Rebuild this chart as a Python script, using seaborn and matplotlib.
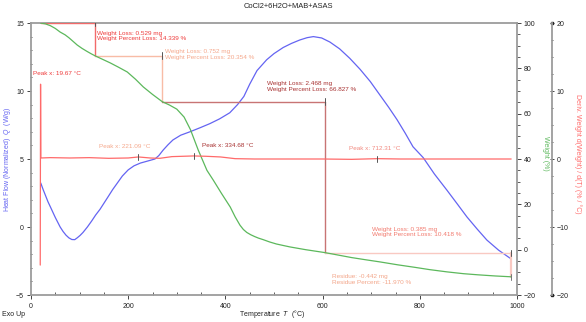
import numpy as np
import pandas as pd
import matplotlib
matplotlib.use("Agg")
import matplotlib.pyplot as plt
from matplotlib.ticker import MultipleLocator
import seaborn as sns

# Heat flow (DSC) curve, W/g
temp_q = [20, 25, 30, 35, 40, 50, 60, 66, 72, 78, 84, 90, 95, 101, 107, 116, 125, 133,
          142, 151, 160, 168, 177, 188, 200, 212, 225, 240, 255, 263, 272, 282, 292, 308,
          327, 348, 368, 388, 409, 425, 438, 450, 465, 485, 500, 519, 536, 553, 568, 581,
          598, 615, 635, 656, 677, 698, 718, 736, 753, 770, 786, 807, 830, 856, 877, 897,
          918, 938, 962, 988]
heat_flow = [3.24, 2.75, 2.3, 1.85, 1.47, 0.7, 0.0, -0.33, -0.6, -0.8, -0.92, -0.93,
             -0.8, -0.62, -0.4, 0.0, 0.45, 0.88, 1.3, 1.8, 2.3, 2.75, 3.2, 3.75, 4.2,
             4.5, 4.7, 4.85, 5.0, 5.25, 5.66, 6.05, 6.4, 6.75, 7.0, 7.3, 7.6, 7.95, 8.4,
             9.0, 9.6, 10.5, 11.5, 12.3, 12.75, 13.2, 13.5, 13.75, 13.92, 14.0, 13.9,
             13.6, 13.1, 12.4, 11.6, 10.7, 9.7, 8.8, 7.9, 6.9, 5.9, 5.1, 3.9, 2.7, 1.7,
             0.74, -0.15, -0.96, -1.7, -2.35]

# Weight (TGA) curve, %
temp_w = [19.67, 30, 40, 50, 60, 70, 78, 86, 95, 105, 115, 124, 132, 147, 163, 180, 198,
          215, 231, 250, 270, 285, 300, 315, 328, 344, 362, 375, 392, 410, 420, 430, 437,
          444, 452, 460, 468, 478, 491, 505, 520, 533, 565, 605, 630, 660, 690, 718, 755,
          790, 820, 856, 890, 920, 955, 988]
weight_pct = [100, 99.6, 98.8, 97.6, 96, 94.8, 93.5, 92.0, 90.3, 88.8, 87.5, 86.4, 85.5,
              84.0, 82.4, 80.5, 78.4, 75.2, 71.8, 68.5, 65.3, 63.8, 62.0, 58.5, 53, 44,
              35, 30.7, 24.8, 18.8, 14.5, 10.8, 8.9, 7.6, 6.6, 5.8, 5.1, 4.4, 3.4, 2.5,
              1.8, 1.2, 0.0, -1.3, -2.3, -3.5, -4.5, -5.4, -6.7, -7.8, -8.8, -9.8, -10.6,
              -11.1, -11.6, -11.97]

# Derivative weight curve, %/°C
temp_d = [19.0, 19.67, 20.3, 40, 80, 120, 160, 200, 221.09, 245, 265, 290, 334.68, 360,
          390, 420, 460, 520, 600, 660, 712.31, 760, 850, 920, 988]
deriv = [-15.6, 11.0, 0.15, 0.2, 0.15, 0.2, 0.1, 0.15, 0.3, 0.15, 0.1, 0.35, 0.45, 0.4,
         0.3, 0.05, 0.0, 0.0, 0.0, -0.05, 0.05, 0.0, 0.0, 0.0, 0.0]

# Weight-loss steps
step_temps = [19.67, 132, 270, 605, 988]
loss_mg = [0.529, 0.752, 2.468, 0.385]
loss_pct = [14.339, 20.354, 66.827, 10.418]
residue_mg = -0.442
residue_pct = -11.970

peak_temps = [19.67, 221.09, 334.68, 712.31]

blue = "#6464f2"
green = "#5cb85c"
red = "#ff6a6a"
step_text_colors = ["#ee3b3b", "#f5a88c", "#a83232", "#f27a6e"]
step_line_colors = ["#f26a6a", "#f8bca6", "#c87474", "#f9c9c2"]
peak_colors = ["#ee3b3b", "#f5a88c", "#a83232", "#f28a80"]

sns.set_theme(style="white")
plt.rcParams['font.family'] = ['Liberation Sans', 'DejaVu Sans']
plt.rcParams['mathtext.fontset'] = 'custom'
plt.rcParams['mathtext.it'] = 'Liberation Sans:italic'
plt.rcParams['mathtext.rm'] = 'Liberation Sans'

W, H = 586, 322
fig = plt.figure(figsize=(W / 100, H / 100), dpi=100)
ax = fig.add_axes([31 / W, 27 / H, 486 / W, 272 / H])
ax2 = ax.twinx()
ax3 = ax.twinx()

spine_c = "#9c9c9c"
tick_c = "#444444"

df_q = pd.DataFrame({"T": temp_q, "Q": heat_flow})
df_w = pd.DataFrame({"T": temp_w, "W": weight_pct})
df_d = pd.DataFrame({"T": temp_d, "D": deriv})

sns.lineplot(data=df_q, x="T", y="Q", ax=ax, color=blue, lw=0.9, sort=False, estimator=None)
sns.lineplot(data=df_w, x="T", y="W", ax=ax2, color=green, lw=0.9, sort=False, estimator=None)
sns.lineplot(data=df_d, x="T", y="D", ax=ax3, color=red, lw=0.9, sort=False, estimator=None)

ax.set_xlim(0, 1000)
ax.set_ylim(-5, 15)
ax2.set_ylim(-20, 100)
ax3.set_ylim(-20, 20)

# weight-loss brackets on the weight axis
levels = [100.0]
for p in loss_pct:
    levels.append(levels[-1] - p)
for i in range(4):
    t0, t1 = step_temps[i], step_temps[i + 1]
    c = step_line_colors[i]
    lw = 1.6 if i == 3 else 1.0
    ax2.plot([t0, t1], [levels[i], levels[i]], color=c, lw=1.0, zorder=1)
    ax2.plot([t1, t1], [levels[i], levels[i + 1]], color=c, lw=lw, zorder=1)
    ax2.plot([t1, t1], [levels[i] - 1.4, levels[i] + 1.4], color="#555555", lw=0.7, zorder=3)
ax2.plot([step_temps[-1]] * 2, [levels[-1] - 1.4, levels[-1] + 1.4], color="#777777", lw=0.7, zorder=3)

# peak markers on the derivative curve
for pt in peak_temps[1:]:
    v = np.interp(pt, temp_d, deriv)
    ax3.plot([pt, pt], [v - 0.45, v + 0.45], color="#555555", lw=0.7, zorder=3)

ann_fs = 4.6
step_text_pos = [(136, 94.3), (276, 86.1), (486, 72.0), (702, 7.8)]
for i, (tx, ty) in enumerate(step_text_pos):
    ax2.text(tx, ty, f"Weight Loss: {loss_mg[i]:.3f} mg\nWeight Percent Loss: {loss_pct[i]:.3f} %",
             color=step_text_colors[i], fontsize=ann_fs, va="center", ha="left", linespacing=1.05)
ax2.text(619, -13.2, f"Residue: {residue_mg:.3f} mg\nResidue Percent: {residue_pct:.3f} %",
         color="#f3a68a", fontsize=ann_fs, va="center", ha="left", linespacing=1.05)

peak_text_pos = [(4.8, 11.3), (140.6, 5.9), (351.2, 5.98), (654.3, 5.79)]
for pt, (tx, ty), c in zip(peak_temps, peak_text_pos, peak_colors):
    ax.text(tx, ty, f"Peak x: {pt:.2f} °C", color=c, fontsize=ann_fs, va="center", ha="left")

# axes styling
for a in (ax, ax2, ax3):
    a.grid(False)
    for s in a.spines.values():
        s.set_visible(False)
for side in ("left", "bottom", "top"):
    ax.spines[side].set_visible(True)
    ax.spines[side].set_color(spine_c)
    ax.spines[side].set_linewidth(1.3)
ax2.spines["right"].set_visible(True)
ax2.spines["right"].set_color(spine_c)
ax2.spines["right"].set_linewidth(1.3)
ax3.spines["right"].set_visible(True)
ax3.spines["right"].set_position(("axes", (552 - 31) / 486))
ax3.spines["right"].set_color(spine_c)
ax3.spines["right"].set_linewidth(1.3)
for yv in (0, 1):
    ax3.plot([(552 - 31) / 486], [yv], marker="s", ms=1.8, color="#222222",
             transform=ax3.transAxes, clip_on=False)

ax.xaxis.set_major_locator(MultipleLocator(200))
ax.xaxis.set_minor_locator(MultipleLocator(50))
ax.yaxis.set_major_locator(MultipleLocator(5))
ax.yaxis.set_minor_locator(MultipleLocator(1))
ax2.yaxis.set_major_locator(MultipleLocator(20))
ax2.yaxis.set_minor_locator(MultipleLocator(5))
ax3.yaxis.set_major_locator(MultipleLocator(10))
ax3.yaxis.set_minor_locator(MultipleLocator(2.5))

tick_kw = dict(color=tick_c, labelsize=5, labelcolor="#222222", width=0.7)
ax.tick_params(axis="x", which="major", direction="out", length=3, pad=3, bottom=True, **tick_kw)
ax.tick_params(axis="x", which="minor", direction="in", length=2, bottom=True, color=tick_c, width=0.6)
ax.tick_params(axis="y", which="major", direction="out", length=3, pad=2, left=True, **tick_kw)
ax.tick_params(axis="y", which="minor", direction="inout", length=2, left=True, color=tick_c, width=0.6)
ax2.tick_params(axis="y", which="major", direction="out", length=3, pad=2, right=True, **tick_kw)
ax2.tick_params(axis="y", which="minor", direction="out", length=2, right=True, color=tick_c, width=0.6)
ax3.tick_params(axis="y", which="major", direction="inout", length=3, pad=2, right=True, **tick_kw)
ax3.tick_params(axis="y", which="minor", direction="inout", length=2, right=True, color=tick_c, width=0.6)

ax.set_xlabel(r"Temperature  $T$  (°C)", fontsize=5, color="#222222", va="center")
ax.xaxis.set_label_coords((272 - 31) / 486, -(314 - 295) / 272)
ax.set_ylabel(r"Heat Flow (Normalized)  $Q$  (W/g)", fontsize=5, color=blue, va="center")
ax.yaxis.set_label_coords(-(31 - 8) / 486, 0.5)
ax2.set_ylabel("Weight (%)", fontsize=5, color=green, rotation=270, va="center")
ax2.yaxis.set_label_coords((545 - 31) / 486, (295 - 153) / 272)
ax3.set_ylabel("Deriv. Weight d(Weight) / d(T) (% / °C)", fontsize=5, color=red,
               rotation=270, va="center")
ax3.yaxis.set_label_coords((578 - 31) / 486, (295 - 154) / 272)

fig.text(288 / W, 1 - 7 / H, "CoCl2+6H2O+MAB+ASAS", fontsize=5.4, ha="center", va="center",
         color="#222222")
fig.text(2 / W, 1 - 314 / H, "Exo Up", fontsize=5, ha="left", va="center", color="#222222")

fig.savefig("out.png", dpi=100, facecolor="white")
